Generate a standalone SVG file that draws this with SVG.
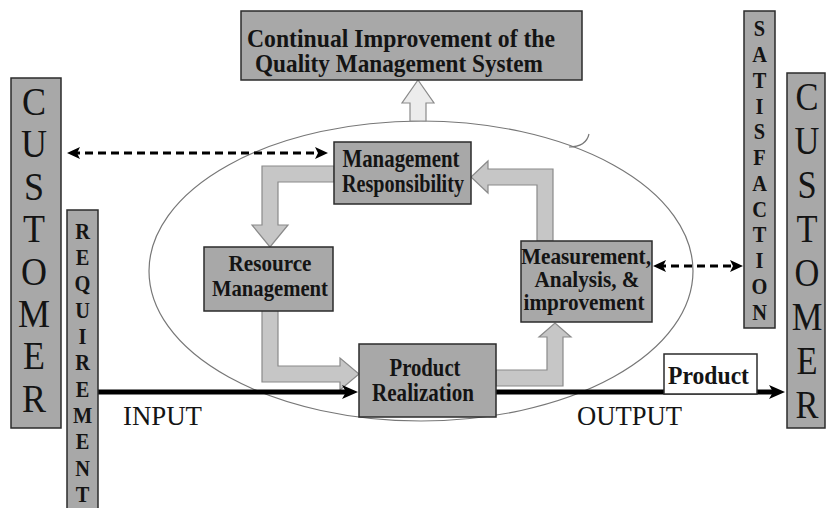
<svg xmlns="http://www.w3.org/2000/svg" width="830" height="508" viewBox="0 0 830 508">
<style>
.box{fill:#a8a8a8;stroke:#2b2b2b;stroke-width:1.5}
.wbox{fill:#ffffff;stroke:#2b2b2b;stroke-width:1.5}
.blk{fill:#c6c6c6;stroke:#8a8a8a;stroke-width:1.2}
.blk2{fill:#ececec;stroke:#8a8a8a;stroke-width:1.2}
.bt{font-family:"Liberation Serif","Times New Roman",serif;font-weight:bold;fill:#141414;text-anchor:middle}
.rt{font-family:"Liberation Serif","Times New Roman",serif;fill:#141414;text-anchor:middle}
.dash{stroke:#000;stroke-width:3;stroke-dasharray:8 5;fill:none}
.thick{stroke:#000;stroke-width:5;fill:none}
.ell{fill:none;stroke:#777;stroke-width:1.2}
</style>
<defs>
<marker id="headT" markerUnits="userSpaceOnUse" markerWidth="16" markerHeight="16" refX="8" refY="8" orient="auto-start-reverse">
<path d="M0,1 L16,8 L0,15 L4,8 z" fill="#000"/>
</marker>
<marker id="headD" markerUnits="userSpaceOnUse" markerWidth="14" markerHeight="14" refX="8" refY="7" orient="auto-start-reverse">
<path d="M0,1 L13,7 L0,13 L3,7 z" fill="#000"/>
</marker>
</defs>
<rect width="830" height="508" fill="#fff"/>

<g id="cycle-ellipse">
<ellipse class="ell" cx="421" cy="271" rx="272" ry="150"/>
<path class="ell" d="M569 147 Q586 147 589 134"/>
</g>

<g id="connectors">
<polygon class="blk2" points="410,121 410,103 402,103 418,80 434,103 426,103 426,121"/>
<polygon class="blk" points="334,166 262,166 262,225 252,225 270,247 288,225 278,225 278,182 334,182"/>
<polygon class="blk" points="262,310 262,382 340,382 340,390 359,374 340,358 340,366 278,366 278,310"/>
<polygon class="blk" points="496,386 563,386 563,337 571,337 555,323 539,337 547,337 547,370 496,370"/>
<polygon class="blk" points="553,241 553,169 488,169 488,161 471,177 488,193 488,185 537,185 537,241"/>
<line class="dash" x1="72" y1="153" x2="323" y2="153" marker-start="url(#headD)" marker-end="url(#headD)"/>
<line class="dash" x1="658" y1="266" x2="738" y2="266" marker-start="url(#headD)" marker-end="url(#headD)"/>
<line class="thick" x1="98" y1="392" x2="350" y2="392" marker-end="url(#headT)"/>
<line class="thick" x1="496" y1="392" x2="777" y2="392" marker-end="url(#headT)"/>
</g>

<g id="customer-left">
<rect class="box" x="11" y="78" width="50" height="350"/>
<g transform="translate(34 0) scale(0.9 1)">
<text class="rt" x="0" y="115" font-size="40">C</text>
<text class="rt" x="0" y="157" font-size="40">U</text>
<text class="rt" x="0" y="200" font-size="40">S</text>
<text class="rt" x="0" y="242" font-size="40">T</text>
<text class="rt" x="0" y="285" font-size="40">O</text>
<text class="rt" x="0" y="327" font-size="40">M</text>
<text class="rt" x="0" y="369" font-size="40">E</text>
<text class="rt" x="0" y="412" font-size="40">R</text>
</g>
</g>

<g id="requirement">
<rect class="box" x="67" y="210" width="31" height="300"/>
<g transform="translate(82.5 0) scale(0.85 1)">
<text class="bt" x="0" y="239" font-size="24">R</text>
<text class="bt" x="0" y="265" font-size="24">E</text>
<text class="bt" x="0" y="291" font-size="24">Q</text>
<text class="bt" x="0" y="318" font-size="24">U</text>
<text class="bt" x="0" y="344" font-size="24">I</text>
<text class="bt" x="0" y="370" font-size="24">R</text>
<text class="bt" x="0" y="397" font-size="24">E</text>
<text class="bt" x="0" y="423" font-size="24">M</text>
<text class="bt" x="0" y="449" font-size="24">E</text>
<text class="bt" x="0" y="476" font-size="24">N</text>
<text class="bt" x="0" y="502" font-size="24">T</text>
</g>
</g>

<g id="continual-improvement">
<rect class="box" x="241" y="11" width="341" height="69"/>
<text class="bt" x="401" y="47" font-size="25" textLength="308" lengthAdjust="spacingAndGlyphs">Continual Improvement of the</text>
<text class="bt" x="399" y="72" font-size="25" textLength="288" lengthAdjust="spacingAndGlyphs">Quality Management System</text>
</g>

<g id="management-responsibility">
<rect class="box" x="334" y="142" width="137" height="62"/>
<text class="bt" x="401" y="167" font-size="25" textLength="117" lengthAdjust="spacingAndGlyphs">Management</text>
<text class="bt" x="403" y="192" font-size="25" textLength="122" lengthAdjust="spacingAndGlyphs">Responsibility</text>
</g>

<g id="resource-management">
<rect class="box" x="204" y="247" width="129" height="64"/>
<text class="bt" x="270" y="271" font-size="24" textLength="83" lengthAdjust="spacingAndGlyphs">Resource</text>
<text class="bt" x="270" y="296" font-size="24" textLength="116" lengthAdjust="spacingAndGlyphs">Management</text>
</g>

<g id="measurement">
<rect class="box" x="521" y="241" width="131" height="81"/>
<text class="bt" x="586" y="264" font-size="23" textLength="130" lengthAdjust="spacingAndGlyphs">Measurement,</text>
<text class="bt" x="587" y="287" font-size="23" textLength="105" lengthAdjust="spacingAndGlyphs">Analysis, &amp;</text>
<text class="bt" x="584" y="310" font-size="23" textLength="121" lengthAdjust="spacingAndGlyphs">improvement</text>
</g>

<g id="product-realization">
<rect class="box" x="359" y="344" width="137" height="73"/>
<text class="bt" x="425" y="376" font-size="25" textLength="71" lengthAdjust="spacingAndGlyphs">Product</text>
<text class="bt" x="423" y="401" font-size="25" textLength="102" lengthAdjust="spacingAndGlyphs">Realization</text>
</g>

<g id="product">
<rect class="wbox" x="664" y="354" width="93" height="40"/>
<text class="bt" x="708.5" y="384" font-size="26" textLength="81" lengthAdjust="spacingAndGlyphs">Product</text>
</g>

<g id="satisfaction">
<rect class="box" x="744" y="11" width="31" height="317"/>
<g transform="translate(759.5 0) scale(0.85 1)">
<text class="bt" x="0" y="36" font-size="24">S</text>
<text class="bt" x="0" y="62" font-size="24">A</text>
<text class="bt" x="0" y="88" font-size="24">T</text>
<text class="bt" x="0" y="114" font-size="24">I</text>
<text class="bt" x="0" y="139" font-size="24">S</text>
<text class="bt" x="0" y="165" font-size="24">F</text>
<text class="bt" x="0" y="191" font-size="24">A</text>
<text class="bt" x="0" y="217" font-size="24">C</text>
<text class="bt" x="0" y="242" font-size="24">T</text>
<text class="bt" x="0" y="268" font-size="24">I</text>
<text class="bt" x="0" y="294" font-size="24">O</text>
<text class="bt" x="0" y="320" font-size="24">N</text>
</g>
</g>

<g id="customer-right">
<rect class="box" x="787" y="73" width="38" height="355"/>
<g transform="translate(807 0) scale(0.84 1)">
<text class="rt" x="0" y="110" font-size="41">C</text>
<text class="rt" x="0" y="154" font-size="41">U</text>
<text class="rt" x="0" y="198" font-size="41">S</text>
<text class="rt" x="0" y="242" font-size="41">T</text>
<text class="rt" x="0" y="286" font-size="41">O</text>
<text class="rt" x="0" y="330" font-size="41">M</text>
<text class="rt" x="0" y="374" font-size="41">E</text>
<text class="rt" x="0" y="418" font-size="41">R</text>
</g>
</g>

<g id="labels">
<text class="rt" x="162.5" y="425" font-size="27" textLength="79" lengthAdjust="spacingAndGlyphs">INPUT</text>
<text class="rt" x="629.5" y="425" font-size="27" textLength="105" lengthAdjust="spacingAndGlyphs">OUTPUT</text>
</g>
</svg>
